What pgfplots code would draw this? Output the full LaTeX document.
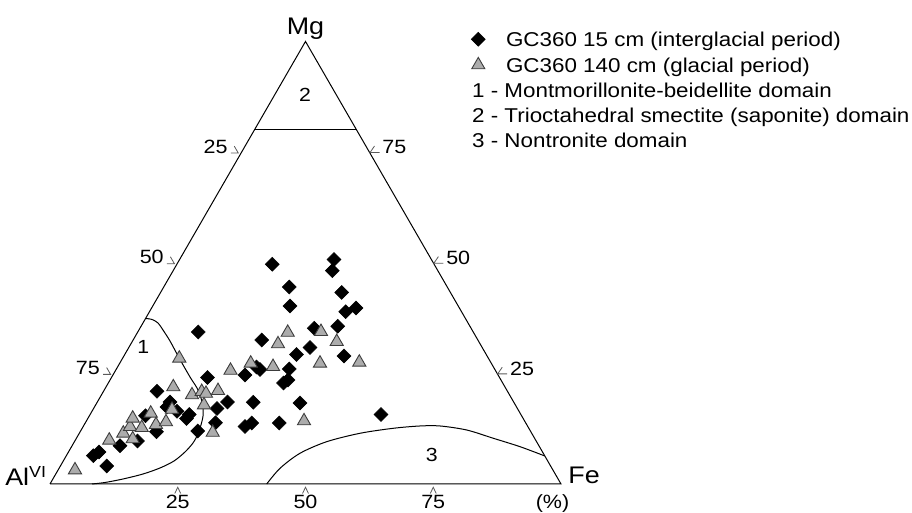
\documentclass[border=0pt]{standalone}
\usepackage{fontspec}
\setmainfont{Liberation Sans}[FakeStretch=1.12]
\usepackage{pgfplots}
\pgfplotsset{compat=1.18}
\usepackage{pgfplotstable}

% Ternary compositions (%): Al(VI), Fe, Mg
\pgfplotstableread{
Al Fe Mg
88.33 5.27 6.40
86.80 5.97 7.23
86.86 9.07 4.07
81.97 9.37 8.66
78.02 12.26 9.72
73.61 10.98 15.41
73.25 14.93 11.82
68.58 10.47 20.95
67.26 14.21 18.53
68.40 14.20 17.40
66.93 16.64 16.43
64.88 19.41 15.71
65.89 19.31 14.80
65.09 22.93 11.98
53.81 11.84 34.35
57.14 18.79 24.07
60.69 25.46 13.85
58.79 24.15 17.06
56.00 25.47 18.53
49.53 25.84 24.63
46.37 27.19 26.44
45.96 28.16 25.88
50.99 30.55 18.46
55.35 31.66 12.99
53.63 32.58 13.79
42.30 25.16 32.54
31.67 18.68 49.65
48.23 37.98 13.79
42.90 34.28 22.82
41.67 34.83 23.50
40.17 33.84 25.99
30.91 24.57 44.52
32.91 26.86 40.23
37.12 33.61 29.27
41.92 39.77 18.31
33.69 35.46 30.85
30.70 34.11 35.19
19.06 30.21 50.73
20.65 31.15 48.20
25.88 38.48 35.64
21.28 35.44 43.28
22.66 38.40 38.94
20.24 39.99 39.77
28.00 43.07 28.93
27.37 56.92 15.71
}\interglacial

\pgfplotstableread{
Al Fe Mg
93.53 3.31 3.16
83.46 6.66 9.88
79.93 8.61 11.46
77.86 9.19 12.95
76.39 8.76 14.85
78.73 11.10 10.17
75.69 11.59 12.72
72.30 11.72 15.98
72.56 14.04 13.40
70.30 15.69 14.01
67.71 15.45 16.84
64.91 13.17 21.92
60.49 11.10 28.41
62.16 17.73 20.11
59.88 19.26 20.86
59.25 20.30 20.45
60.94 21.21 17.85
56.58 22.34 21.08
62.34 26.02 11.64
51.85 22.50 25.65
47.08 25.64 27.28
43.10 30.39 26.51
39.56 28.80 31.64
36.36 29.40 34.24
29.76 35.82 34.42
27.81 40.03 32.16
33.52 39.20 27.28
25.72 46.78 27.50
43.17 42.59 14.24
}\glacial

\pgfplotstableread{
Fe Mg
0 0
100 0
0 100
0 0
}\frame

\pgfplotstableread{
Fe Mg
0.00 37.40
1.37 37.18
2.95 36.38
4.71 34.80
7.32 32.32
11.10 28.41
15.31 24.18
17.92 21.69
19.83 19.44
21.24 17.40
22.26 15.37
22.88 13.33
23.31 11.30
23.35 9.27
22.80 7.23
21.67 5.20
19.72 3.62
17.07 2.26
13.73 1.13
10.59 0.34
8.22 0.00
}\domainone

\pgfplotstableread{
Fe Mg
0 80
20 80
}\domaintwo

\pgfplotstableread{
Fe Mg
42.41 0.00
43.24 3.55
45.45 6.94
49.37 9.56
54.94 11.46
60.89 12.59
65.86 13.11
69.77 13.11
75.45 12.20
81.59 10.33
87.77 8.43
93.67 6.33
}\domainthree

\newcommand{\TX}{50+5.11*\thisrow{Fe}+2.555*\thisrow{Mg}}
\newcommand{\TY}{29+4.4253*\thisrow{Mg}}

\definecolor{trigray}{RGB}{172,172,172}
\definecolor{triedge}{RGB}{60,60,60}
\definecolor{tickgray}{RGB}{90,90,90}

\begin{document}
\begin{tikzpicture}
\begin{axis}[
  scale only axis, width=456pt, height=256.5pt,
  xmin=0, xmax=912, ymin=0, ymax=513,
  hide axis, clip=false,
  legend cell align=left,
  legend style={at={(axis cs:464.3,483.7)}, anchor=north west,
    draw=none, fill=none, inner sep=0pt, outer sep=0pt,
    row sep=2.85pt, column sep=0pt,
    font=\fontsize{10}{12}\selectfont,
    nodes={inner sep=0pt, text height=7.2pt, text depth=0pt}},
  legend image code/.code={\path[draw=none, fill=none] (-7pt,-5pt) rectangle (13.85pt,5pt); \draw[#1] plot coordinates {(0pt,0pt)};},
]
\coordinate (BL) at (axis cs:0,0);
\coordinate (TR) at (axis cs:912,513);

% frame and domains
\addplot[black, line width=0.5pt, forget plot] table[x expr=\TX, y expr=\TY] {\frame};
\addplot[black, line width=0.5pt, forget plot] table[x expr=\TX, y expr=\TY] {\domaintwo};
\addplot[black, line width=0.5pt, smooth, forget plot] table[x expr=\TX, y expr=\TY] {\domainone};
\addplot[black, line width=0.5pt, smooth, forget plot] table[x expr=\TX, y expr=\TY] {\domainthree};

% data
\addplot[only marks, mark=square*, mark size=2.45pt, mark options={rotate=45, fill=black, draw=black, line width=0.3pt}]
  table[x expr=\TX, y expr=\TY] {\interglacial};
\addlegendentry{GC360 15 cm (interglacial period)}
\addplot[only marks, mark=triangle*, mark size=3.8pt, mark options={fill=trigray, draw=triedge, line width=0.45pt}]
  table[x expr=\TX, y expr=\TY] {\glacial};
\addlegendentry{GC360 140 cm (glacial period)}

% ticks
\draw[tickgray, line width=0.4pt] (axis cs:230.8,359.9) -- (axis cs:238.3,359.9) -- (axis cs:234.3,366.8);
\draw[tickgray, line width=0.4pt] (axis cs:166.9,249.3) -- (axis cs:174.4,249.3) -- (axis cs:170.4,256.2);
\draw[tickgray, line width=0.4pt] (axis cs:103.1,138.6) -- (axis cs:110.6,138.6) -- (axis cs:106.6,145.5);
\draw[tickgray, line width=0.4pt] (axis cs:379.5,360.4) -- (axis cs:370.0,360.4) -- (axis cs:374.5,367.0);
\draw[tickgray, line width=0.4pt] (axis cs:443.4,249.8) -- (axis cs:433.9,249.8) -- (axis cs:438.4,256.4);
\draw[tickgray, line width=0.4pt] (axis cs:507.2,139.1) -- (axis cs:497.7,139.1) -- (axis cs:502.2,145.7);
\draw[tickgray, line width=0.4pt] (axis cs:174.75,19.5) -- (axis cs:177.75,25.7) -- (axis cs:180.75,19.5);
\draw[tickgray, line width=0.4pt] (axis cs:302.5,19.5) -- (axis cs:305.5,25.7) -- (axis cs:308.5,19.5);
\draw[tickgray, line width=0.4pt] (axis cs:430.25,19.5) -- (axis cs:433.25,25.7) -- (axis cs:436.25,19.5);

% tick labels
\begin{scope}[font=\fontsize{9.6}{11}\selectfont, inner sep=0pt]
\node at (axis cs:215.6,366.4) {25};
\node at (axis cs:151.75,255.8) {50};
\node at (axis cs:87.9,145.1) {75};
\node at (axis cs:394.4,365.9) {75};
\node at (axis cs:458.25,255.3) {50};
\node at (axis cs:522.1,144.6) {25};
\node at (axis cs:177.75,11) {25};
\node at (axis cs:305.5,11) {50};
\node at (axis cs:433.25,11) {75};
\node at (axis cs:552.5,9.5) {(\%)};
\end{scope}

% vertex labels
\begin{scope}[font=\fontsize{12}{14}\selectfont, inner sep=0pt]
\node[anchor=base] at (axis cs:305.5,478.7) {Mg};
\node[anchor=base east] at (axis cs:47.5,27) {Al\textsuperscript{VI}};
\node[anchor=base west] at (axis cs:568,29) {Fe};
\end{scope}

% domain labels
\begin{scope}[font=\fontsize{9.5}{11}\selectfont, inner sep=0pt]
\node at (axis cs:143.3,166.3) {1};
\node at (axis cs:305,418) {2};
\node at (axis cs:431.7,58) {3};
\end{scope}

% legend text lines
\begin{scope}[font=\fontsize{10}{12}\selectfont, inner sep=0pt]
\node[anchor=base west] at (axis cs:471.7,415.3) {1 - Montmorillonite-beidellite domain};
\node[anchor=base west] at (axis cs:471.7,390.3) {2 - Trioctahedral smectite (saponite) domain};
\node[anchor=base west] at (axis cs:471.7,365.3) {3 - Nontronite domain};
\end{scope}
\end{axis}
\pgfresetboundingbox
\path (BL) rectangle (TR);
\end{tikzpicture}
\end{document}
